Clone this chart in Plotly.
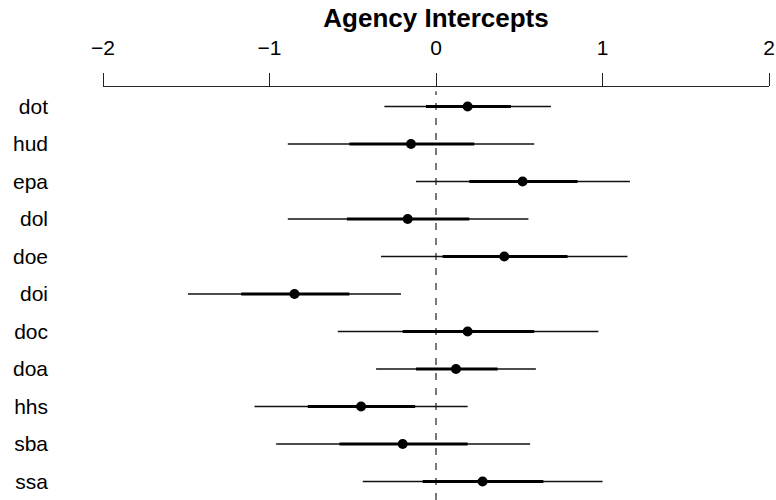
import plotly.graph_objects as go

agencies = ["dot", "hud", "epa", "dol", "doe", "doi", "doc", "doa", "hhs", "sba", "ssa"]
estimate = [0.19, -0.15, 0.52, -0.17, 0.41, -0.85, 0.19, 0.12, -0.45, -0.20, 0.28]
inner_lo = [-0.06, -0.52, 0.20, -0.535, 0.04, -1.17, -0.20, -0.12, -0.77, -0.58, -0.08]
inner_hi = [0.45, 0.23, 0.85, 0.20, 0.79, -0.52, 0.59, 0.37, -0.125, 0.19, 0.645]
outer_lo = [-0.31, -0.89, -0.12, -0.89, -0.33, -1.49, -0.59, -0.36, -1.09, -0.96, -0.44]
outer_hi = [0.69, 0.59, 1.165, 0.555, 1.15, -0.21, 0.975, 0.60, 0.19, 0.565, 1.00]
x_ticks = [-2, -1, 0, 1, 2]

rows = list(range(1, len(agencies) + 1))

FONT = "Liberation Sans, Arial, Helvetica, sans-serif"


def segments(lo, hi):
    xs, ys = [], []
    for a, b, r in zip(lo, hi, rows):
        xs += [a, b, None]
        ys += [r, r, None]
    return xs, ys


fig = go.Figure()

ox, oy = segments(outer_lo, outer_hi)
fig.add_trace(go.Scatter(x=ox, y=oy, mode="lines",
                         line=dict(color="#111111", width=1.3),
                         hoverinfo="skip", showlegend=False))
ix, iy = segments(inner_lo, inner_hi)
fig.add_trace(go.Scatter(x=ix, y=iy, mode="lines",
                         line=dict(color="black", width=2.8),
                         hoverinfo="skip", showlegend=False))
fig.add_trace(go.Scatter(x=estimate, y=rows, mode="markers",
                         marker=dict(color="black", size=10, line=dict(width=0)),
                         text=agencies, showlegend=False))

fig.add_shape(type="line", xref="x", yref="paper", x0=0, x1=0, y0=0, y1=0.99,
              line=dict(color="#222222", width=1.2, dash="7px,8px"), layer="below")

fig.update_layout(
    width=776, height=500,
    margin=dict(l=103, r=7, t=87, b=0, pad=0),
    paper_bgcolor="white", plot_bgcolor="white",
    font=dict(family=FONT, color="black"),
    title=dict(text="<b>Agency Intercepts</b>", x=0.5, xref="paper",
               y=0.964, yref="container", yanchor="middle", xanchor="center",
               font=dict(size=26, family=FONT, color="black"),
               automargin=False),
    xaxis=dict(side="top", range=[-2, 2], tickvals=x_ticks,
               ticktext=[("\u2212" + str(abs(v))) if v < 0 else str(v) for v in x_ticks],
               showline=True, linecolor="#222222", linewidth=1.2,
               ticks="outside", ticklen=13, tickwidth=1.2, tickcolor="#222222",
               showgrid=False, zeroline=False, tickfont=dict(size=21, family=FONT, color="black"),
               ticklabelstandoff=10, automargin=False),
    yaxis=dict(range=[11.493, 0.48], tickvals=rows, ticktext=agencies,
               showline=False, ticks="", showgrid=False, zeroline=False,
               tickfont=dict(size=21, family=FONT, color="black"),
               ticklabelstandoff=54, automargin=False),
)

fig.write_html("out.html", config={"displayModeBar": False},
               post_script="document.body.style.margin='0';document.body.style.padding='0';")
